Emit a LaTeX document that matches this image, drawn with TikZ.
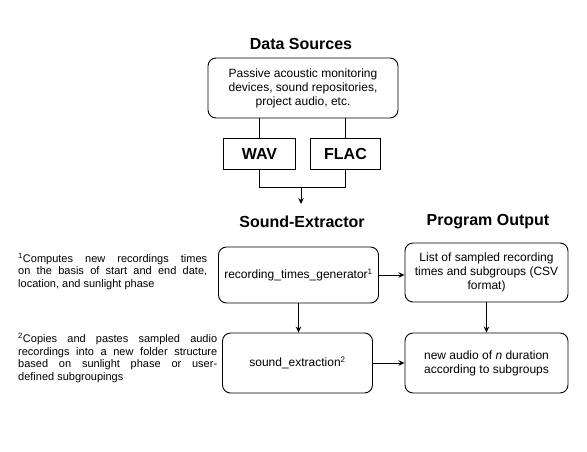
\documentclass[tikz,border=0pt]{standalone}
\usepackage{fontspec}
\setmainfont{Liberation Sans}
\usetikzlibrary{arrows.meta,positioning}
\begin{document}
\begin{tikzpicture}[x=1pt,y=-1pt,
  box/.style={draw=black,line width=0.9pt,rounded corners=8pt,align=center,inner sep=2pt,
    font=\fontsize{12}{14}\selectfont},
  fmt/.style={draw=black,line width=0.9pt,align=center,font=\fontsize{16}{18}\selectfont\bfseries},
  ttl/.style={font=\fontsize{16}{18}\selectfont\bfseries,inner sep=0pt},
  note/.style={align=left,inner sep=0pt,anchor=north west,font=\fontsize{11}{12.5}\selectfont},
  conn/.style={draw=black,line width=0.9pt},
  arr/.style={conn,-{Stealth[length=6pt,width=5.5pt]}}]
\useasboundingbox (0,0) rectangle (587,451);

\node[ttl] (t1) at (301,44) {Data Sources};
\node[box,minimum width=190pt,minimum height=60pt] (src) at (303,88)
  {Passive acoustic monitoring\\devices, sound repositories,\\project audio, etc.};
\node[fmt,minimum width=72pt,minimum height=31pt] (wav) at (259.5,154) {WAV};
\node[fmt,minimum width=70pt,minimum height=31pt] (flac) at (345.5,154) {FLAC};
\coordinate (j) at (301,187);
\coordinate (jend) at (301,204);

\draw[conn] (wav.north |- src.south) -- (wav.north);
\draw[conn] (flac.north |- src.south) -- (flac.north);
\draw[conn] (wav.south) |- (flac.south |- j) -- (flac.south);
\draw[arr] (j) -- (jend);

\node[ttl] (t2) at (302,222) {Sound-Extractor};
\node[ttl] (t3) at (488,222) {Program Output};

\node[box,minimum width=160pt,minimum height=56pt] (rtg) at (298.5,275)
  {recording\_times\_generator\textsuperscript{1}};
\node[box,minimum width=150pt,minimum height=60pt] (se) at (297.5,363)
  {sound\_extraction\textsuperscript{2}};
\node[box,minimum width=163pt,minimum height=59pt] (o1) at (486.5,272.5)
  {List of sampled recording\\times and subgroups (CSV\\format)};
\node[box,minimum width=163pt,minimum height=60pt] (o2) at (486.5,363)
  {new audio of \textit{n} duration\\according to subgroups};

\draw[arr] (rtg.east) -- (rtg.east -| o1.west);
\draw[arr] (se.east) -- (se.east -| o2.west);
\draw[arr] (rtg.south) -- (rtg.south |- se.north);
\draw[arr] (o1.south) -- (o1.south |- o2.north);

\node[note] (n1) at (18,253)
  {\makebox[189pt][s]{\textsuperscript{1}Computes new recordings times}\\
   \makebox[189pt][s]{on the basis of start and end date,}\\
   location, and sunlight phase};
\node[note] (n2) at (18,333)
  {\makebox[199pt][s]{\textsuperscript{2}Copies and pastes sampled audio}\\
   \makebox[199pt][s]{recordings into a new folder structure}\\
   \makebox[199pt][s]{based on sunlight phase or user-}\\
   defined subgroupings};
\end{tikzpicture}
\end{document}
